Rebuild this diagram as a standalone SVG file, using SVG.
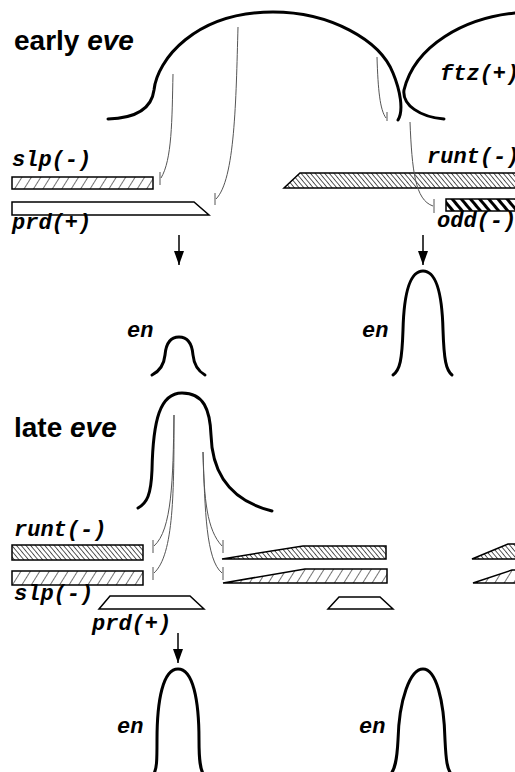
<svg xmlns="http://www.w3.org/2000/svg" width="515" height="772" viewBox="0 0 515 772">
<style>
.title{font-family:"Liberation Sans",Arial,sans-serif;font-weight:bold;font-size:28px;fill:#000}
.gene{font-family:"Liberation Mono","Courier New",monospace;font-weight:bold;font-style:italic;font-size:22px;fill:#000}
.stripe{fill:none;stroke:#000;stroke-width:3;stroke-linecap:round}
.bar{stroke:#000;stroke-width:1.5}
.inh{fill:none;stroke:#555;stroke-width:1}
.arrow{stroke:#000;stroke-width:1.5}
</style>
<defs>
<pattern id="hFwd" width="8" height="8" patternUnits="userSpaceOnUse" patternTransform="rotate(32)">
<rect width="8" height="8" fill="#fff"/><line x1="0" y1="0" x2="0" y2="8" stroke="#000" stroke-width="1.1"/>
</pattern>
<pattern id="hBackDense" width="3.6" height="8" patternUnits="userSpaceOnUse" patternTransform="rotate(-40)">
<rect width="3.6" height="8" fill="#fff"/><line x1="0" y1="0" x2="0" y2="8" stroke="#000" stroke-width="1.3"/>
</pattern>
<pattern id="hBackThick" width="7" height="8" patternUnits="userSpaceOnUse" patternTransform="rotate(-40)">
<rect width="7" height="8" fill="#fff"/><line x1="1.5" y1="0" x2="1.5" y2="8" stroke="#000" stroke-width="3"/>
</pattern>
<marker id="arr" viewBox="0 0 14 10" refX="14" refY="5" markerWidth="14" markerHeight="10" markerUnits="userSpaceOnUse" orient="auto">
<path d="M0,0 L14,5 L0,10 Z" fill="#000"/>
</marker>
</defs>

<g id="title-early"><text class="title" x="14" y="50">early <tspan font-style="italic">eve</tspan></text></g>
<g id="title-late"><text class="title" x="14" y="437">late <tspan font-style="italic">eve</tspan></text></g>

<g id="eve-early-stripe"><path class="stripe" d="M108,119 C140,118 152,106 154,90 C157,60 195,12 273,12 C330,12 380,40 393,73 C400,90 404,110 398,120"/></g>
<g id="ftz-stripe"><path class="stripe" d="M515,13 C465,18 415,45 404,90 C402,105 420,117 444,119"/>
<text class="gene" x="440" y="80">ftz(+)</text></g>

<g id="slp-early"><text class="gene" x="12" y="166">slp(-)</text>
<rect class="bar" x="12" y="177" width="141" height="12" fill="url(#hFwd)"/></g>
<g id="prd-early"><path class="bar" fill="#fff" d="M12,202 L194,202 L209,215 L12,215 Z"/>
<text class="gene" x="12" y="229">prd(+)</text></g>
<g id="runt-early"><text class="gene" x="427" y="163">runt(-)</text>
<path class="bar" fill="url(#hBackDense)" d="M300,173 L520,173 L520,188 L284,188 Z"/></g>
<g id="odd-early"><rect class="bar" x="446" y="199" width="75" height="12" fill="url(#hBackThick)"/>
<text class="gene" x="437" y="227">odd(-)</text></g>

<g id="en-early-1"><text class="gene" x="127" y="337">en</text>
<path class="stripe" d="M152,375 C160,371 164,365 165,355 C166,343 171,337 179,337 C187,337 192,343 193,355 C194,365 198,371 205,375"/></g>
<g id="en-early-2"><text class="gene" x="362" y="337">en</text>
<path class="stripe" d="M393,375 C400,370 402,360 403,330 C404,290 411,271 423,271 C435,271 442,290 443,330 C444,360 446,370 452,375"/></g>

<g id="eve-late-stripe"><path class="stripe" d="M138,508 C147,503 151,495 152,470 C153,420 160,393 182,393 C204,393 210,410 211,435 C212,470 228,500 272,511"/></g>

<g id="runt-late"><text class="gene" x="14" y="536">runt(-)</text>
<rect class="bar" x="12" y="545" width="131" height="15" fill="url(#hBackDense)"/>
<path class="bar" fill="url(#hBackDense)" d="M222,559 L303,546 L386,546 L386,559 Z"/>
<path class="bar" fill="url(#hBackDense)" d="M472,559 L508,544 L520,544 L520,559 Z"/></g>
<g id="slp-late"><rect class="bar" x="12" y="571" width="131" height="14" fill="url(#hFwd)"/>
<path class="bar" fill="url(#hFwd)" d="M223,583 L305,569 L387,569 L387,583 Z"/>
<path class="bar" fill="url(#hFwd)" d="M473,583 L512,570 L520,570 L520,583 Z"/>
<text class="gene" x="14" y="600">slp(-)</text></g>
<g id="prd-late"><path class="bar" fill="#fff" d="M99,609 L110,596 L190,596 L204,609 Z"/>
<path class="bar" fill="#fff" d="M328,609 L339,597 L380,597 L393,609 Z"/>
<text class="gene" x="92" y="630">prd(+)</text></g>

<g id="en-late-1"><text class="gene" x="117" y="733">en</text>
<path class="stripe" d="M153,775 C157,770 157,760 157,740 C157,700 163,669 178,669 C193,669 199,700 199,740 C199,760 200,770 204,775"/></g>
<g id="en-late-2"><text class="gene" x="359" y="733">en</text>
<path class="stripe" d="M390,775 C395,770 397,760 398,740 C399,700 410,669 423,669 C436,669 444,700 445,740 C446,760 447,770 452,775"/></g>

<g id="connectors">
<path class="inh" d="M173,74 C172,120 172,160 161,178 M160,172 V185"/>
<path class="inh" d="M238,27 C236,100 235,180 216,199 M215,193 V205"/>
<path class="inh" d="M377,57 C378,90 380,110 386,118 M387,112 V121"/>
<path class="inh" d="M410,122 C412,170 415,200 433,206 M434,199 V213"/>
<path class="inh" d="M174,415 C173,480 172,530 154,546 M153,540 V553"/>
<path class="inh" d="M174,415 C174,490 174,555 154,573 M153,567 V580"/>
<path class="inh" d="M203,452 C204,500 207,530 222,546 M223,540 V553"/>
<path class="inh" d="M203,452 C205,510 206,560 222,573 M223,567 V580"/>
<line class="arrow" x1="179" y1="235" x2="179" y2="265" marker-end="url(#arr)"/>
<line class="arrow" x1="423" y1="235" x2="423" y2="265" marker-end="url(#arr)"/>
<line class="arrow" x1="178" y1="633" x2="178" y2="663" marker-end="url(#arr)"/>
</g>
</svg>
